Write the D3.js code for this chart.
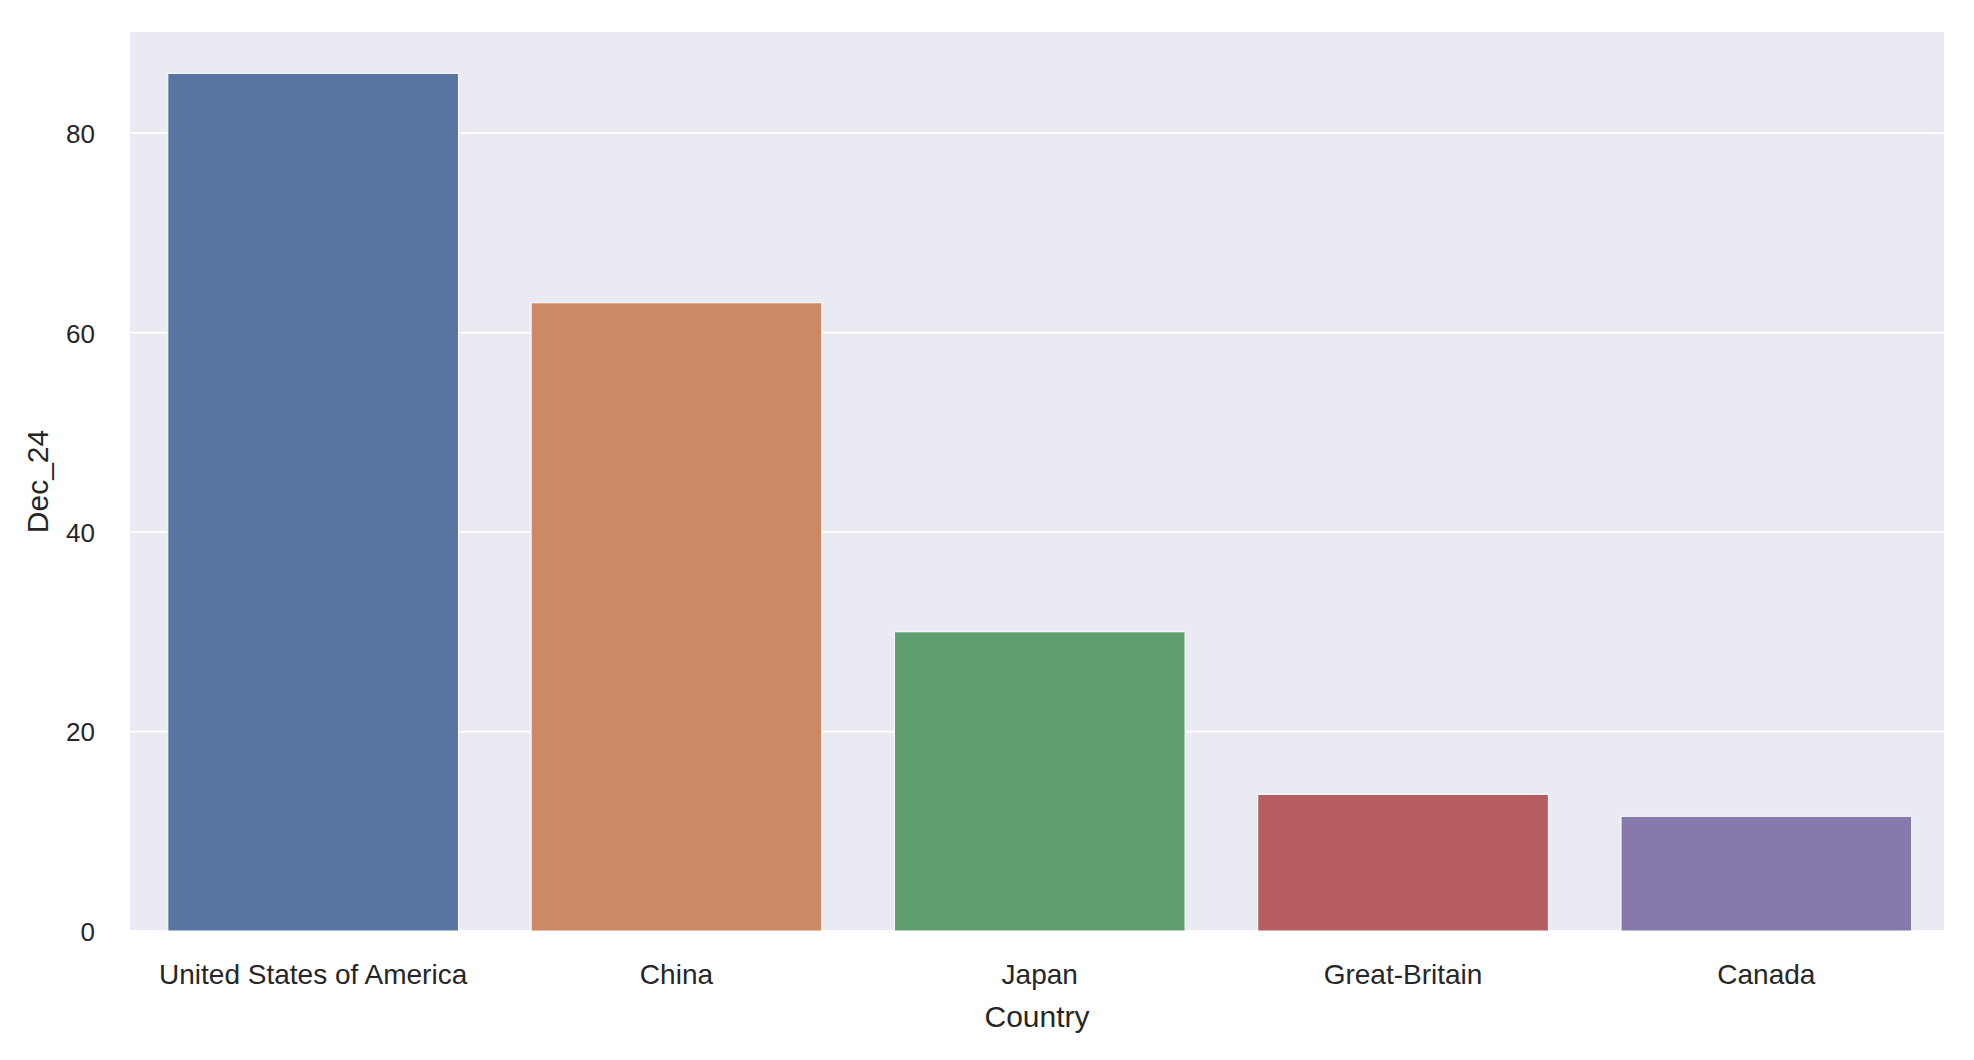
<!DOCTYPE html>
<html>
<head>
<meta charset="utf-8">
<script src="https://cdn.jsdelivr.net/npm/d3@7"></script>
<style>
  html, body { margin: 0; padding: 0; background: #ffffff; }
  svg { display: block; }
  text { font-family: "Liberation Sans", Arial, sans-serif; fill: #262626; }
</style>
</head>
<body>
<svg id="chart" width="1974" height="1060"></svg>
<script>
const countries = ["United States of America", "China", "Japan", "Great-Britain", "Canada"];
const dec24 = [86, 63, 30, 13.7, 11.5];
const barColors = ["#5975a4", "#cc8963", "#5f9e6e", "#b55d60", "#857aab"];
const yTicks = [0, 20, 40, 60, 80];
const xLabel = "Country";
const yLabel = "Dec_24";

const svg = d3.select("#chart");
const plot = { left: 130, right: 1944, top: 32, bottom: 931 };

const x = d3.scaleBand()
  .domain(countries)
  .range([plot.left + 1.5, plot.right + 4])
  .paddingInner(0.2)
  .paddingOuter(0.1);

const y = d3.scaleLinear()
  .domain([0, 90.15])
  .range([plot.bottom, plot.top]);

// background
svg.append("rect")
  .attr("x", plot.left).attr("y", plot.top)
  .attr("width", plot.right - plot.left)
  .attr("height", plot.bottom - plot.top)
  .attr("fill", "#eaeaf2");

// grid lines
svg.append("g").selectAll("line")
  .data(yTicks)
  .join("line")
  .attr("x1", plot.left).attr("x2", plot.right)
  .attr("y1", d => y(d)).attr("y2", d => y(d))
  .attr("stroke", "#ffffff").attr("stroke-width", 1.8);

// bars
svg.append("g").selectAll("rect")
  .data(countries.map((c, i) => ({ c, v: dec24[i], col: barColors[i] })))
  .join("rect")
  .attr("x", d => x(d.c))
  .attr("width", x.bandwidth())
  .attr("y", d => y(d.v))
  .attr("height", d => y(0) - y(d.v))
  .attr("fill", d => d.col)
  .attr("stroke", "#ffffff")
  .attr("stroke-width", 1);

// y axis
const yAxis = d3.axisLeft(y).tickValues(yTicks).tickSize(0).tickPadding(0).tickFormat(d3.format("d"));
const gy = svg.append("g").attr("transform", `translate(${plot.left - 35},0)`).call(yAxis);
gy.select(".domain").remove();
gy.selectAll("text")
  .attr("font-size", 26)
  .attr("font-family", "'Liberation Sans', Arial, sans-serif")
  .attr("fill", "#262626")
  .attr("dy", "0.36em");

// x axis
const xAxis = d3.axisBottom(x).tickSize(0).tickPadding(0);
const gx = svg.append("g").attr("transform", `translate(0,${plot.bottom})`).call(xAxis);
gx.select(".domain").remove();
gx.selectAll("text")
  .attr("font-size", 28)
  .attr("font-family", "'Liberation Sans', Arial, sans-serif")
  .attr("fill", "#262626")
  .attr("dy", null)
  .attr("y", 53);

// axis labels
svg.append("text")
  .attr("x", (plot.left + plot.right) / 2)
  .attr("y", 1027)
  .attr("text-anchor", "middle")
  .attr("font-size", 30)
  .text(xLabel);

svg.append("text")
  .attr("transform", `translate(48,${(plot.top + plot.bottom) / 2}) rotate(-90)`)
  .attr("text-anchor", "middle")
  .attr("font-size", 30)
  .text(yLabel);
</script>
</body>
</html>
